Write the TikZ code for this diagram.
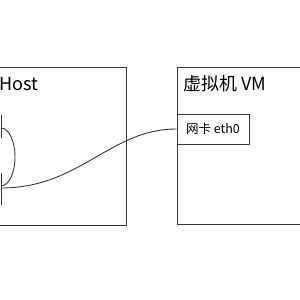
\documentclass[tikz,border=0pt]{standalone}
\usepackage{fontspec}
\setmainfont{Noto Sans CJK SC}
\usetikzlibrary{positioning, calc}
\definecolor{linecol}{RGB}{55,55,55}

\begin{document}
\begin{tikzpicture}[
    x=1pt, y=-1pt,
    %% ── Box styles ──
    hostbox/.style={rectangle, draw=linecol, line width=0.9pt, inner sep=0pt},
    nicbox/.style={rectangle, draw=linecol, line width=0.9pt,
        minimum width=72pt, minimum height=30pt, inner sep=0pt,
        font=\fontsize{12.5}{14}\selectfont},
    title/.style={anchor=west, inner sep=0pt, font=\fontsize{18}{20}\selectfont},
    %% ── Connector style ──
    wire/.style={draw=linecol, line width=0.9pt},
]
\useasboundingbox (0,0) rectangle (300,300);
\clip (0,0) rectangle (300,300);

% ── Host side ──
\node[hostbox, minimum width=186pt, minimum height=158pt] (host) at (33,146) {};
\node[title] (hostlabel) at (-1,84) {Host};

% ── VM side ──
\node[hostbox, minimum width=183pt, minimum height=157pt] (vm) at (268.5,145.5) {};
\node[title] (vmlabel) at (183,84) {虚拟机 VM};
\node[nicbox] (eth) at (213,129) {网卡 eth0};

% ── Cut-off ports at the left edge ──
\coordinate (porta1) at (1,115);
\coordinate (porta2) at (1,138);
\coordinate (portb1) at (1,173);
\coordinate (portb2) at (1,205);
\draw[wire] (porta1) -- (porta2);
\draw[wire] (portb1) -- (portb2);

% Loop between the two ports
\coordinate (loopa) at (1,128);
\draw[wire] (loopa) arc[start angle=-90, end angle=90, x radius=14, y radius=29];

% S-curve: port → eth0
\coordinate (cable) at (1,188);
\draw[wire] (cable) .. controls (80,188) and (110,129) .. (eth.west);

\end{tikzpicture}
\end{document}
